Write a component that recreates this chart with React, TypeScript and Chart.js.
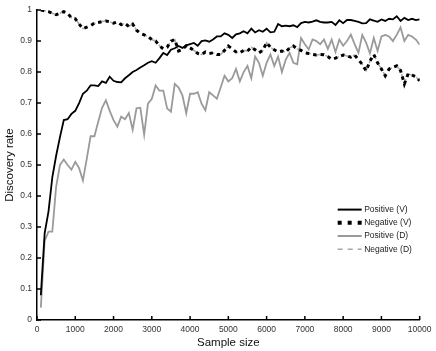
import React, { useEffect, useRef } from 'react';
import { Chart, registerables } from 'chart.js';

Chart.register(...registerables);

const sampleSizes = [
  100, 200, 300, 400, 500, 600, 700, 800, 900, 1000,
  1100, 1200, 1300, 1400, 1500, 1600, 1700, 1800, 1900, 2000,
  2100, 2200, 2300, 2400, 2500, 2600, 2700, 2800, 2900, 3000,
  3100, 3200, 3300, 3400, 3500, 3600, 3700, 3800, 3900, 4000,
  4100, 4200, 4300, 4400, 4500, 4600, 4700, 4800, 4900, 5000,
  5100, 5200, 5300, 5400, 5500, 5600, 5700, 5800, 5900, 6000,
  6100, 6200, 6300, 6400, 6500, 6600, 6700, 6800, 6900, 7000,
  7100, 7200, 7300, 7400, 7500, 7600, 7700, 7800, 7900, 8000,
  8100, 8200, 8300, 8400, 8500, 8600, 8700, 8800, 8900, 9000,
  9100, 9200, 9300, 9400, 9500, 9600, 9700, 9800, 9900, 10000,
];

const positiveV = [
  0.08, 0.28, 0.35, 0.46, 0.53, 0.59, 0.645, 0.648, 0.665, 0.675,
  0.70, 0.73, 0.74, 0.757, 0.757, 0.755, 0.77, 0.765, 0.785, 0.772,
  0.768, 0.767, 0.78, 0.79, 0.80, 0.807, 0.815, 0.822, 0.83, 0.835,
  0.83, 0.845, 0.862, 0.855, 0.872, 0.877, 0.884, 0.878, 0.886, 0.89,
  0.894, 0.885, 0.90, 0.902, 0.898, 0.905, 0.915, 0.915, 0.925, 0.92,
  0.91, 0.922, 0.925, 0.932, 0.925, 0.94, 0.928, 0.935, 0.93, 0.94,
  0.928, 0.93, 0.955, 0.948, 0.95, 0.948, 0.951, 0.945, 0.958, 0.962,
  0.96, 0.963, 0.967, 0.962, 0.96, 0.96, 0.962, 0.952, 0.967, 0.958,
  0.968, 0.968, 0.965, 0.962, 0.957, 0.958, 0.97, 0.966, 0.962, 0.97,
  0.965, 0.972, 0.97, 0.98, 0.965, 0.975, 0.968, 0.972, 0.968, 0.97,
];

const negativeV = [
  1.0, 0.998, 0.995, 0.99, 0.985, 0.99, 0.995, 0.99, 0.975, 0.972,
  0.955, 0.94, 0.945, 0.95, 0.958, 0.96, 0.963, 0.965, 0.962, 0.958,
  0.962, 0.953, 0.957, 0.947, 0.955, 0.935, 0.925, 0.92, 0.915, 0.905,
  0.90, 0.885, 0.875, 0.88, 0.90, 0.905, 0.868, 0.873, 0.885, 0.878,
  0.87, 0.86, 0.857, 0.865, 0.86, 0.862, 0.857, 0.857, 0.87, 0.884,
  0.875, 0.865, 0.862, 0.87, 0.868, 0.88, 0.872, 0.862, 0.87, 0.895,
  0.88, 0.872, 0.865, 0.868, 0.865, 0.878, 0.884, 0.875, 0.87, 0.862,
  0.86, 0.857, 0.855, 0.857, 0.856, 0.85, 0.841, 0.845, 0.85, 0.855,
  0.852, 0.848, 0.855, 0.84, 0.825, 0.804, 0.835, 0.857, 0.83, 0.81,
  0.788, 0.81, 0.815, 0.82, 0.805, 0.762, 0.795, 0.79, 0.785, 0.772,
];

const positiveD = [
  0.04, 0.255, 0.285, 0.285, 0.43, 0.50, 0.518, 0.50, 0.485, 0.51,
  0.49, 0.45, 0.52, 0.593, 0.593, 0.64, 0.685, 0.709, 0.675, 0.645,
  0.624, 0.656, 0.648, 0.668, 0.614, 0.683, 0.685, 0.598, 0.698, 0.714,
  0.757, 0.74, 0.74, 0.683, 0.672, 0.762, 0.75, 0.725, 0.667, 0.73,
  0.73, 0.735, 0.698, 0.677, 0.735, 0.725, 0.714, 0.75, 0.788, 0.77,
  0.78, 0.81, 0.77, 0.80, 0.82, 0.78, 0.85, 0.83, 0.788, 0.83,
  0.857, 0.82, 0.85, 0.80, 0.84, 0.862, 0.83, 0.825, 0.91, 0.89,
  0.873, 0.905, 0.90, 0.89, 0.905, 0.875, 0.905, 0.865, 0.905, 0.885,
  0.90, 0.921, 0.89, 0.862, 0.92, 0.895, 0.86, 0.91, 0.868, 0.915,
  0.92, 0.915, 0.90, 0.92, 0.944, 0.90, 0.92, 0.915, 0.905, 0.888,
];

const negativeD = [
  1.0, 0.998, 0.995, 0.99, 0.985, 0.99, 0.995, 0.99, 0.975, 0.972,
  0.955, 0.94, 0.945, 0.95, 0.958, 0.96, 0.963, 0.965, 0.962, 0.958,
  0.962, 0.953, 0.957, 0.947, 0.955, 0.935, 0.925, 0.92, 0.915, 0.905,
  0.90, 0.885, 0.875, 0.88, 0.90, 0.905, 0.868, 0.873, 0.885, 0.878,
  0.87, 0.86, 0.857, 0.865, 0.86, 0.862, 0.857, 0.857, 0.87, 0.884,
  0.875, 0.865, 0.862, 0.87, 0.868, 0.88, 0.872, 0.862, 0.87, 0.895,
  0.88, 0.872, 0.865, 0.868, 0.865, 0.878, 0.884, 0.875, 0.87, 0.862,
  0.86, 0.857, 0.855, 0.857, 0.856, 0.85, 0.841, 0.845, 0.85, 0.855,
  0.852, 0.848, 0.855, 0.84, 0.825, 0.804, 0.835, 0.857, 0.83, 0.81,
  0.788, 0.81, 0.815, 0.82, 0.805, 0.762, 0.795, 0.79, 0.785, 0.772,
];

const seriesLabels = ['Positive (V)', 'Negative (V)', 'Positive (D)', 'Negative (D)'];
const xTitle = 'Sample size';
const yTitle = 'Discovery rate';

const FONT = "'Liberation Sans', Arial, sans-serif";

const legendStyles = [
  { color: '#000000', width: 2, dash: [] as number[] },
  { color: '#000000', width: 4, dash: [4, 6] },
  { color: '#9a9a9a', width: 2, dash: [] as number[] },
  { color: '#a8a8a8', width: 1.5, dash: [5, 5] },
];

const decorPlugin = {
  id: 'decor',
  afterDraw(chart: any) {
    const ctx = chart.ctx;
    const { left, bottom, right, top } = chart.chartArea;
    const xs = chart.scales.x;
    const ys = chart.scales.y;
    ctx.save();
    ctx.strokeStyle = '#000';
    ctx.lineWidth = 1.5;
    ctx.setLineDash([]);
    ctx.beginPath();
    xs.ticks.forEach((t: any) => {
      const px = xs.getPixelForValue(t.value);
      ctx.moveTo(px, bottom);
      ctx.lineTo(px, bottom - 4);
    });
    ys.ticks.forEach((t: any) => {
      const py = ys.getPixelForValue(t.value);
      ctx.moveTo(left, py);
      ctx.lineTo(left + 4, py);
    });
    ctx.stroke();

    // legend
    const x0 = right - 82;
    const y0 = top + 199.5;
    ctx.font = `8.5px ${FONT}`;
    ctx.textBaseline = 'middle';
    ctx.textAlign = 'left';
    seriesLabels.forEach((lab, i) => {
      const st = legendStyles[i];
      const y = y0 + i * 13.2;
      ctx.beginPath();
      ctx.strokeStyle = st.color;
      ctx.lineWidth = st.width;
      ctx.setLineDash(st.dash);
      ctx.lineCap = 'butt';
      ctx.moveTo(x0, y);
      ctx.lineTo(x0 + 24, y);
      ctx.stroke();
      ctx.setLineDash([]);
      ctx.fillStyle = '#222';
      ctx.fillText(lab, x0 + 26.5, y);
    });
    ctx.restore();
  },
};

export default function App() {
  const ref = useRef<HTMLCanvasElement | null>(null);
  useEffect(() => {
    if (!ref.current) return;
    const mk = (arr: number[]) => sampleSizes.map((x, i) => ({ x, y: arr[i] }));
    const chart = new Chart(ref.current, {
      type: 'line',
      data: {
        datasets: [
          {
            label: seriesLabels[0],
            data: mk(positiveV),
            borderColor: '#000000',
            borderWidth: 1.8,
            pointRadius: 0,
            order: 0,
          },
          {
            label: seriesLabels[1],
            data: mk(negativeV),
            borderColor: '#000000',
            borderWidth: 3,
            borderDash: [3.5, 4],
            pointRadius: 0,
            order: 1,
          },
          {
            label: seriesLabels[2],
            data: mk(positiveD),
            borderColor: '#9a9a9a',
            borderWidth: 1.8,
            pointRadius: 0,
            order: 2,
          },
          {
            label: seriesLabels[3],
            data: mk(negativeD),
            borderColor: '#a8a8a8',
            borderWidth: 1.5,
            borderDash: [5, 5],
            pointRadius: 0,
            order: 3,
          },
        ],
      },
      options: {
        animation: false,
        responsive: false,
        devicePixelRatio: 1,
        layout: { padding: { left: 0, right: 11, top: 5, bottom: 0 } },
        plugins: {
          legend: { display: false },
          tooltip: { enabled: false },
        },
        scales: {
          x: {
            type: 'linear',
            min: 0,
            max: 10000,
            grid: { display: false, drawTicks: false },
            border: { display: true, color: '#000', width: 1.5 },
            ticks: {
              stepSize: 1000,
              autoSkip: false,
              maxRotation: 0,
              padding: 4.5,
              color: '#333',
              font: { family: FONT, size: 8.5 },
              callback: (v: any) => String(v),
            },
            title: {
              display: true,
              text: xTitle,
              color: '#111',
              font: { family: FONT, size: 11.5 },
              padding: { top: 0, bottom: 1.5 },
            },
            afterFit: (s: any) => {
              s.height = 31;
            },
          },
          y: {
            min: 0,
            max: 1,
            grid: { display: false, drawTicks: false },
            border: { display: true, color: '#000', width: 1.5 },
            ticks: {
              stepSize: 0.1,
              autoSkip: false,
              padding: 5,
              color: '#333',
              font: { family: FONT, size: 8.5 },
              callback: (v: any) => String(Number(Number(v).toFixed(1))),
            },
            title: {
              display: true,
              text: yTitle,
              color: '#111',
              font: { family: FONT, size: 11.5 },
              padding: { top: 3, bottom: 0 },
            },
            afterFit: (s: any) => {
              s.width = 37;
            },
          },
        },
      },
      plugins: [decorPlugin],
    });
    return () => chart.destroy();
  }, []);
  return (
    <div style={{ position: 'absolute', left: 0, top: 0, width: 436, height: 351 }}>
      <canvas ref={ref} width={436} height={351} />
    </div>
  );
}
